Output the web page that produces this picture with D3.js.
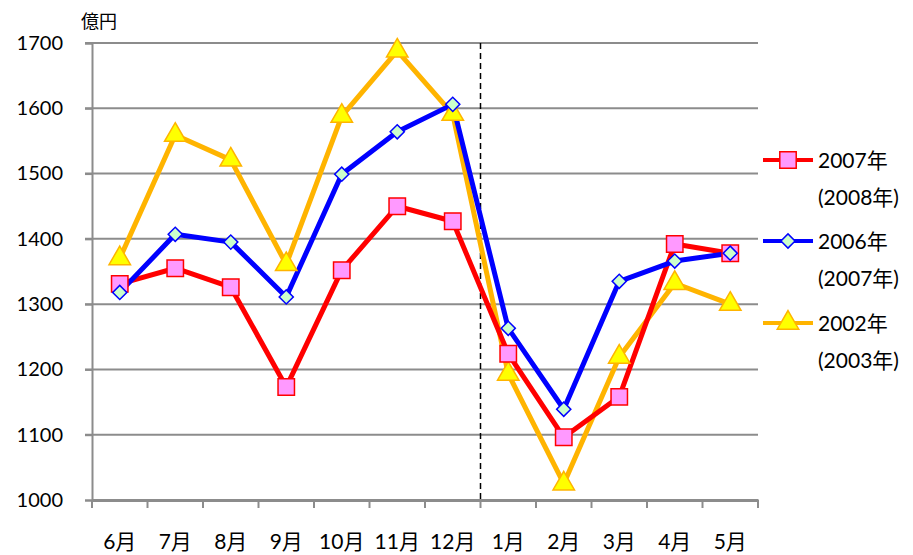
<!DOCTYPE html>
<html>
<head>
<meta charset="utf-8">
<script src="https://cdn.jsdelivr.net/npm/d3@7"></script>
<style>
body { margin: 0; background: #fff; }
text { font-family: Lato, "Noto Sans CJK JP", sans-serif; }
</style>
</head>
<body>
<div id="wrapper-line"></div>
<script>
// data
const months = ['6月','7月','8月','9月','10月','11月','12月','1月','2月','3月','4月','5月'];
const yTicks = [1000,1100,1200,1300,1400,1500,1600,1700];
const sales2007 = [1331,1355,1326,1173,1352,1450,1427,1224,1096,1158,1392,1378];
const sales2006 = [1318,1407,1395,1311,1499,1564,1606,1263,1139,1335,1366,1378];
const sales2002 = [1370,1559,1521,1361,1588,1688,1591,1193,1025,1219,1332,1300];
const seriesNames = [['2007年','(2008年)'],['2006年','(2007年)'],['2002年','(2003年)']];

let W = 913, H = 555;
let mLeft = 92, mRight = 758, mTop = 43, mBottom = 500;

let svg = d3.select('#wrapper-line').append('svg')
	.attr('width', W).attr('height', H);

let xscale = d3.scaleBand().domain(months).range([mLeft, mRight]);
let yscale = d3.scaleLinear().domain([1000,1700]).range([mBottom, mTop]);

// gridlines
svg.append('g').selectAll('line')
	.data(yTicks.slice(1))
	.enter().append('line')
	.attr('x1', mLeft - 7).attr('x2', mRight)
	.attr('y1', d => yscale(d)).attr('y2', d => yscale(d))
	.style('stroke', '#8c8c8c').style('stroke-width', 2);

// y axis
let yAxis = d3.axisLeft(yscale).tickValues(yTicks).tickSize(7).tickFormat(d3.format('d'));
let gy = svg.append('g').attr('transform', 'translate(' + mLeft + ',0)').call(yAxis);
gy.select('.domain').style('stroke', '#8c8c8c').style('stroke-width', 2);
gy.selectAll('.tick line').style('stroke', '#8c8c8c').style('stroke-width', 2);
gy.selectAll('.tick text').attr('x', -29).style('font-size', '20px').style('fill', '#000')
	.style('font-family', 'Lato, "Noto Sans CJK JP", sans-serif');

// x axis
let xAxis = d3.axisBottom(xscale).tickSize(0).tickFormat('');
let gx = svg.append('g').attr('transform', 'translate(0,' + mBottom + ')').call(xAxis);
gx.select('.domain').style('stroke', '#8c8c8c').style('stroke-width', 3);
gx.selectAll('.tick').remove();
let edges = months.map((m) => xscale(m)).concat([mRight]);
gx.selectAll('line.edge').data(edges).enter().append('line')
	.attr('class', 'edge')
	.attr('x1', d => d).attr('x2', d => d)
	.attr('y1', 0).attr('y2', 8)
	.style('stroke', '#8c8c8c').style('stroke-width', 2);
gx.selectAll('text.lab').data(months).enter().append('text')
	.attr('class', 'lab')
	.attr('x', d => xscale(d) + xscale.bandwidth() / 2)
	.attr('y', 49)
	.attr('text-anchor', 'middle')
	.style('font-size', '21px')
	.style('fill', '#000')
	.text(d => d);

// unit label
svg.append('text').attr('x', 81).attr('y', 28).style('font-size', '18px').text('億円');

// dashed divider between 12月 and 1月
svg.append('line')
	.attr('x1', xscale('1月')).attr('x2', xscale('1月'))
	.attr('y1', yscale(1700)).attr('y2', mBottom)
	.style('stroke', '#000').style('stroke-width', 1.5)
	.style('stroke-dasharray', '6,4');

let cx = d => xscale(d) + xscale.bandwidth() / 2;
let series = [
	{ values: sales2002, line: '#ffb400', fill: '#ffff00', edge: '#ffb400', shape: d3.symbolTriangle, size: 200, rot: 0 },
	{ values: sales2007, line: '#ff0000', fill: '#ff99ff', edge: '#ff0000', shape: d3.symbolSquare, size: 270, rot: 0 },
	{ values: sales2006, line: '#0000ff', fill: '#ccffcc', edge: '#0000ff', shape: d3.symbolSquare, size: 100, rot: 45 }
];

let lineGen = d3.line().x((d, i) => cx(months[i])).y(d => yscale(d));

series.forEach(function (s) {
	svg.append('path').datum(s.values)
		.attr('d', lineGen)
		.style('fill', 'none').style('stroke', s.line).style('stroke-width', 5)
		.style('stroke-linejoin', 'round');
});
series.forEach(function (s) {
	svg.append('g').selectAll('path')
		.data(s.values).enter().append('path')
		.attr('d', d3.symbol().type(s.shape).size(s.size))
		.attr('transform', (d, i) => 'translate(' + cx(months[i]) + ',' + yscale(d) + ') rotate(' + s.rot + ')')
		.style('fill', s.fill).style('stroke', s.edge).style('stroke-width', 1.5);
});

// legend
let legendOrder = [series[1], series[2], series[0]];
let legendY = [160, 241, 323];
legendOrder.forEach(function (s, k) {
	let y = legendY[k];
	let g = svg.append('g').attr('transform', 'translate(0,' + y + ')');
	g.append('line').attr('x1', 763).attr('x2', 813).attr('y1', 0).attr('y2', 0)
		.style('stroke', s.line).style('stroke-width', 4);
	g.append('path').attr('d', d3.symbol().type(s.shape).size(s.size))
		.attr('transform', 'translate(788,0) rotate(' + s.rot + ')')
		.style('fill', s.fill).style('stroke', s.edge).style('stroke-width', 1.5);
	g.append('text').attr('x', 818).attr('y', 8).style('font-size', '21px').text(seriesNames[k][0]);
	g.append('text').attr('x', 818).attr('y', 45).style('font-size', '21px').text(seriesNames[k][1]);
});
</script>
</body>
</html>
